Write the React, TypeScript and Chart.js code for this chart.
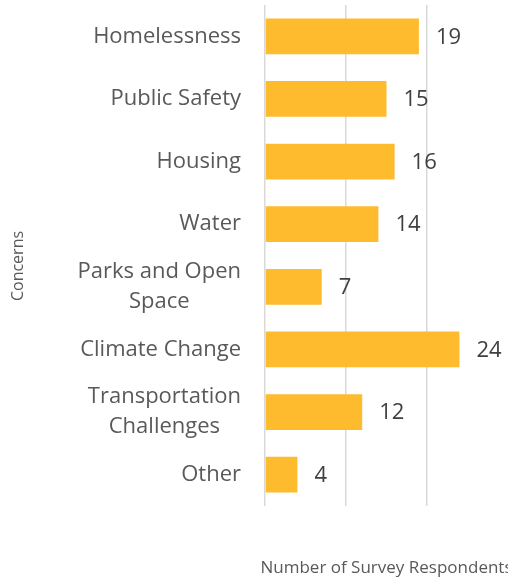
import React, { useEffect, useRef } from "react";
import { Chart, registerables } from "chart.js";

Chart.register(...registerables);

const categories: (string | string[])[] = [
  "Homelessness",
  "Public Safety",
  "Housing",
  "Water",
  ["Parks and Open", "Space"],
  "Climate Change",
  ["Transportation", "Challenges"],
  "Other",
];
const respondents = [19, 15, 16, 14, 7, 24, 12, 4];
const xTitle = "Number of Survey Respondents";
const yTitle = "Concerns";

const FONT = "'Open Sans', sans-serif";

const labelsPlugin = {
  id: "customLabels",
  afterDatasetsDraw(chart: any) {
    const ctx = chart.ctx;
    const meta = chart.getDatasetMeta(0);
    ctx.save();
    ctx.font = `22px ${FONT}`;
    ctx.fillStyle = "#404040";
    ctx.textAlign = "left";
    ctx.textBaseline = "middle";
    meta.data.forEach((bar: any, i: number) => {
      ctx.fillText(String(respondents[i]), bar.x + 17, bar.y + 1);
    });
    ctx.restore();
  },
  afterDraw(chart: any) {
    const ctx = chart.ctx;
    const area = chart.chartArea;
    const yScale = chart.scales.y;
    ctx.save();
    // category labels (multi-line centred within their block, block right-aligned)
    ctx.fillStyle = "#595959";
    ctx.font = `22px ${FONT}`;
    ctx.textBaseline = "middle";
    ctx.textAlign = "center";
    const rightX = area.left - 24;
    const lh = 30;
    categories.forEach((lab, i) => {
      const lines = Array.isArray(lab) ? lab : [lab];
      const w = Math.max(...lines.map((l) => ctx.measureText(l).width));
      const cx = rightX - w / 2;
      const cy = yScale.getPixelForValue(i);
      const top = cy - ((lines.length - 1) * lh) / 2;
      lines.forEach((l, k) => ctx.fillText(l, cx, top + k * lh));
    });
    ctx.fillStyle = "#595959";
    ctx.font = `17px ${FONT}`;
    ctx.textAlign = "center";
    ctx.fillText(xTitle, (area.left + area.right) / 2, 568);
    ctx.font = `16px ${FONT}`;
    ctx.translate(18, 266);
    ctx.rotate(-Math.PI / 2);
    ctx.fillText(yTitle, 0, 0);
    ctx.restore();
  },
};

export default function App() {
  const ref = useRef<HTMLCanvasElement | null>(null);
  useEffect(() => {
    if (!ref.current) return;
    const chart = new Chart(ref.current, {
      type: "bar",
      data: {
        labels: categories as any,
        datasets: [
          {
            data: respondents,
            backgroundColor: "#FDBB2D",
            borderWidth: 0,
            barPercentage: 0.57,
            categoryPercentage: 1,
          },
        ],
      },
      options: {
        indexAxis: "y",
        animation: false,
        responsive: false,
        maintainAspectRatio: false,
        layout: { padding: { top: 5, bottom: 74, left: 0, right: 0 } },
        plugins: {
          legend: { display: false },
          tooltip: { enabled: false },
        },
        scales: {
          x: {
            min: 0,
            max: 30,
            afterFit: (scale: any) => {
              scale.height = 0;
              scale.paddingLeft = 0;
              scale.paddingRight = 0;
            },
            ticks: { display: false, stepSize: 10 },
            grid: {
              drawTicks: false,
              color: (c: any) => (c.tick && c.tick.value === 30 ? "rgba(0,0,0,0)" : "#d9d9d9"),
              lineWidth: 1.5,
            },
            border: { display: false },
          },
          y: {
            afterFit: (scale: any) => {
              scale.width = 265;
              scale.paddingTop = 0;
              scale.paddingBottom = 0;
            },
            grid: { display: false, drawTicks: false },
            border: { display: false },
            ticks: { display: false, autoSkip: false },
          },
        },
      },
      plugins: [labelsPlugin],
    });
    return () => chart.destroy();
  }, []);
  return (
    <div style={{ position: "fixed", left: 0, top: 0, width: 508, height: 580, background: "#fff" }}>
      <canvas ref={ref} width={508} height={580} style={{ width: 508, height: 580 }} />
    </div>
  );
}
